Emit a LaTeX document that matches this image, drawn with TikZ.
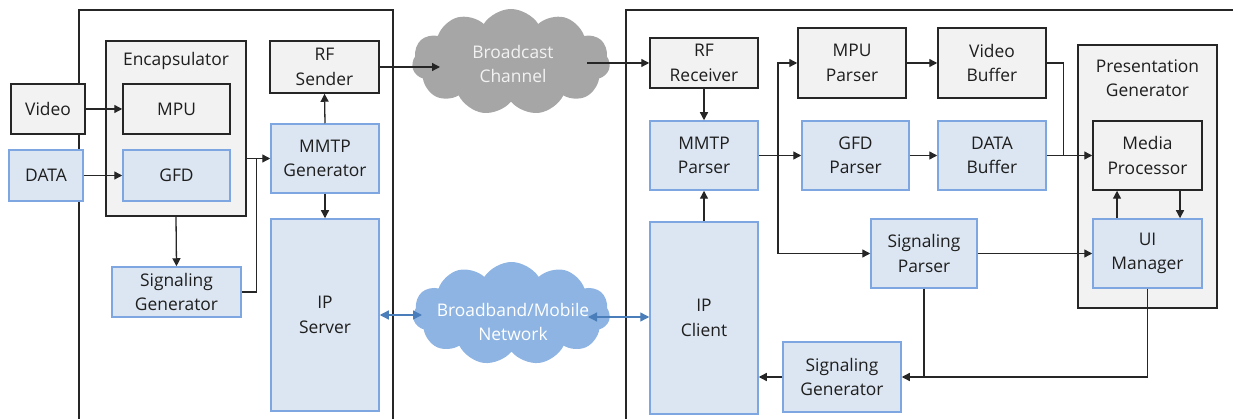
\documentclass[tikz,border=0pt]{standalone}
\usepackage{fontspec}
\setmainfont{Open Sans}
\usetikzlibrary{arrows.meta,shapes.symbols,calc}
\definecolor{gfill}{HTML}{F2F2F2}
\definecolor{gline}{HTML}{262626}
\definecolor{bfill}{HTML}{DCE6F2}
\definecolor{bline}{HTML}{7EA6E0}
\definecolor{barrow}{HTML}{4A7EBB}
\definecolor{cgray}{HTML}{A6A6A6}
\definecolor{cblue}{HTML}{8DB4E2}
\definecolor{txt}{HTML}{1E1E1E}
\begin{document}
\begin{tikzpicture}[x=1pt,y=-1pt,
  every node/.style={font=\fontsize{17.4}{24.5}\selectfont, text=txt, align=center, inner sep=0pt},
  gbox/.style={draw=gline, fill=gfill, line width=1.5pt},
  bbox/.style={draw=bline, fill=bfill, line width=1.5pt},
  wh/.style 2 args={minimum width=#1pt, minimum height=#2pt},
  frame/.style={draw=gline, line width=1.2pt},
  arr/.style={draw=gline, line width=1.3pt, -{Triangle[length=8pt,width=8pt]}},
  ln/.style={draw=gline, line width=1.3pt},
  barr/.style={draw=barrow, line width=1.3pt, {Triangle[length=9pt,width=9pt]}-{Triangle[length=9pt,width=9pt]}},
  cloudy/.style={cloud, cloud puffs=11, cloud puff arc=115, aspect=1.9, inner sep=0pt}]
\useasboundingbox (0,0) rectangle (1233,419);

% sender and receiver frames (open towards the page edges)
\draw[frame] (79,419) -- (79,10) -- (393,10) -- (393,419);
\draw[frame] (626,419) -- (626,10) -- (1233,10);

% ---- sender side ----
\node[gbox, wh={74}{50}] (video) at (48,109) {Video};
\node[bbox, wh={74}{51}] (data) at (46,175.5) {DATA};
\node[gbox, wh={140}{175}] (encap) at (176,128.5) {};
\node (encapl) at (176,61) {Encapsulator};
\node[gbox, wh={107}{50}] (mpu) at (176.5,109) {MPU};
\node[bbox, wh={107}{51}] (gfd) at (176.5,175.5) {GFD};
\node[gbox, wh={109}{52}] (rfs) at (324.5,67) {RF\\Sender};
\node[bbox, wh={108}{69}] (mmtpg) at (325,158.5) {MMTP\\Generator};
\node[bbox, wh={129}{50}] (sigg1) at (176.5,292) {Signaling\\Generator};
\node[bbox, wh={108}{192}] (ips) at (325,315) {IP\\Server};

% ---- networks ----
\node[cloudy, fill=cgray, minimum width=198pt, minimum height=106pt] (bc) at (511,62) {};
\node[text=gfill] (bcl) at (513,64) {Broadcast\\Channel};
\node[cloudy, fill=cblue, minimum width=197pt, minimum height=103pt] (bb) at (511.5,313.5) {};
\node[text=white] (bbl) at (513,322) {Broadband/Mobile\\Network};
\coordinate (bcin) at (440,67);
\coordinate (bcout) at (587,63);
\coordinate (bbw) at (422,315);
\coordinate (bbe) at (588,317);

% ---- receiver side ----
\node[gbox, wh={108}{50}] (rfr) at (704,63) {RF\\Receiver};
\node[bbox, wh={108}{69}] (mmtpp) at (704,155.5) {MMTP\\Parser};
\node[bbox, wh={108}{192}] (ipc) at (704,318) {IP\\Client};
\node[gbox, wh={108}{70}] (mpup) at (852,63) {MPU\\Parser};
\node[gbox, wh={108}{70}] (vbuf) at (992,63) {Video\\Buffer};
\node[bbox, wh={107}{69}] (gfdp) at (855.5,155.5) {GFD\\Parser};
\node[bbox, wh={108}{69}] (dbuf) at (992,155.5) {DATA\\Buffer};
\node[gbox, wh={139}{263}] (pres) at (1147.5,176.5) {};
\node (presl) at (1147.5,78) {Presentation\\Generator};
\node[gbox, wh={109}{69}] (mproc) at (1147.5,155.5) {Media\\Processor};
\node[bbox, wh={109}{69}] (uim) at (1147.5,253.5) {UI\\Manager};
\node[bbox, wh={106}{69}] (sigp) at (924,253.5) {Signaling\\Parser};
\node[bbox, wh={118}{70}] (sigg2) at (842,377) {Signaling\\Generator};

% ---- sender connectors ----
\draw[arr] (video.east) -- (mpu.west);
\draw[arr] (data.east) -- (gfd.west);
\draw[arr] (encap.south) -- (sigg1.north);
\draw[arr] (encap.east |- mmtpg.west) -- (mmtpg.west);
\draw[ln] (sigg1.east) -| ($(encap.east |- mmtpg.west)+(10,0)$);
\draw[arr] (mmtpg.north) -- (rfs.south);
\draw[arr] (mmtpg.south) -- (ips.north);

% ---- broadcast and broadband paths ----
\draw[arr] (rfs.east) -- (bcin);
\draw[arr] (bcout) -- (rfr.west);
\draw[barr] (ips.east |- bbw) -- (bbw);
\draw[barr] (bbe) -- (ipc.west |- bbe);

% ---- receiver connectors ----
\draw[arr] (rfr.south) -- (mmtpp.north);
\draw[arr] (ipc.north) -- (mmtpp.south);
\draw[arr] (mmtpp.east) -- (gfdp.west);
\coordinate (br) at (778,155.5);
\draw[arr] (br) |- (mpup.west);
\draw[arr] (br) |- (sigp.west);
\draw[arr] (mpup.east) -- (vbuf.west);
\draw[arr] (gfdp.east) -- (dbuf.west);
\draw[arr] (dbuf.east) -- (mproc.west);
\draw[ln] (vbuf.east) -| ($(dbuf.east)+(17,0)$);
\draw[arr] ([xshift=-30.5pt]uim.north) -- ([xshift=-30.5pt]mproc.south);
\draw[arr] ([xshift=32.5pt]mproc.south) -- ([xshift=32.5pt]uim.north);
\draw[arr] (sigp.east) -- (uim.west);
\draw[arr] (uim.south) |- (sigg2.east);
\draw[ln] (sigp.south) -- (sigp.south |- sigg2.east);
\draw[arr] (sigg2.west) -- (ipc.east |- sigg2.west);
\end{tikzpicture}
\end{document}
